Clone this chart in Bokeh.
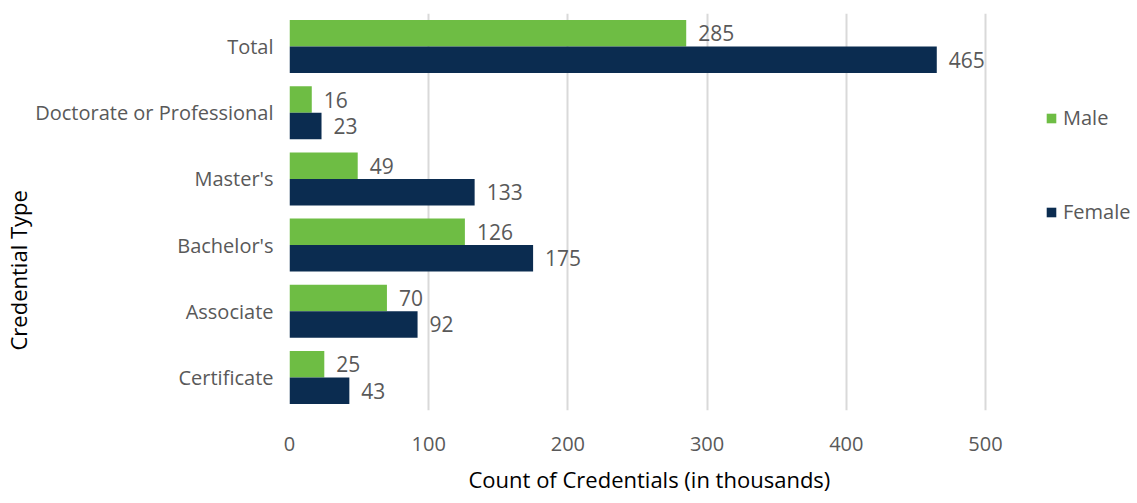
import math
from bokeh.plotting import figure
from bokeh.models import ColumnDataSource, FactorRange, Range1d, Legend, LegendItem, LabelSet, FixedTicker, Title
from bokeh.transform import dodge
from bokeh.core.properties import value
from bokeh.embed import file_html
from bokeh.resources import INLINE

categories = ["Certificate", "Associate", "Bachelor's", "Master's", "Doctorate or Professional", "Total"]
male = [25, 70, 126, 49, 16, 285]
female = [43, 92, 175, 133, 23, 465]
x_ticks = [0, 100, 200, 300, 400, 500]

GREEN = "#6EBD44"
NAVY = "#0B2C50"
GRAY = "#595959"
FONT = "Open Sans"

W, H = 1137, 503
LEFT, TOP, BOTTOM = 289, 13, 93
# frame spans to the right edge; value 500 lands at x=985 so the legend fits inside the frame
x_end = 500 * (W - LEFT) / (985 - LEFT)

src = ColumnDataSource(dict(cat=categories, male=male, female=female,
                            male_txt=[str(v) for v in male],
                            female_txt=[str(v) for v in female]))

p = figure(width=W, height=H, y_range=FactorRange(*categories, range_padding=0),
           x_range=Range1d(0, x_end), output_backend="svg", toolbar_location=None,
           min_border_left=LEFT, min_border_right=0, min_border_top=TOP, min_border_bottom=BOTTOM)
p.outline_line_color = None
p.background_fill_color = "white"
p.border_fill_color = "white"

rm = p.hbar(y=dodge("cat", 0.2, range=p.y_range), right="male", left=0, height=0.4,
            source=src, fill_color=GREEN, line_color=None)
rf = p.hbar(y=dodge("cat", -0.2, range=p.y_range), right="female", left=0, height=0.4,
            source=src, fill_color=NAVY, line_color=None)

for col, off in (("male", 0.2), ("female", -0.2)):
    lbl = LabelSet(x=col, y=dodge("cat", off, range=p.y_range), text=col + "_txt", source=src,
                   x_offset=12, text_align="left", text_baseline="middle",
                   text_font=value(FONT), text_font_size="21px", text_color=GRAY)
    p.add_layout(lbl)

p.xaxis.ticker = FixedTicker(ticks=x_ticks)
p.xaxis.axis_line_color = None
p.xaxis.major_tick_line_color = None
p.xaxis.minor_tick_line_color = None
p.xaxis.major_label_text_font = FONT
p.xaxis.major_label_text_font_size = "20px"
p.xaxis.major_label_text_color = GRAY
p.xaxis.major_label_standoff = 20

p.yaxis.axis_line_color = None
p.yaxis.major_tick_line_color = None
p.yaxis.minor_tick_line_color = None
p.yaxis.major_label_text_font = FONT
p.yaxis.major_label_text_font_size = "20px"
p.yaxis.major_label_text_color = GRAY
p.yaxis.major_label_standoff = 10

p.xgrid.grid_line_color = "#D9D9D9"
p.xgrid.grid_line_width = 2
p.ygrid.grid_line_color = None

ytitle = Title(text="Credential Type", align="left", offset=60, standoff=0, text_line_height=0.8,
               text_font=FONT, text_font_size="22px", text_font_style="normal", text_color="black")
p.add_layout(ytitle, "left")
xtitle = Title(text="Count of Credentials (in thousands)", align="left", offset=179, standoff=16,
               text_font=FONT, text_font_size="22px", text_font_style="normal", text_color="black")
p.add_layout(xtitle, "below")

legend = Legend(items=[LegendItem(label="Male", renderers=[rm]),
                       LegendItem(label="Female", renderers=[rf])],
                location=(756, 185), orientation="vertical",
                border_line_color=None, background_fill_alpha=0,
                padding=0, margin=0, spacing=67, glyph_width=12, glyph_height=12,
                label_height=24, label_standoff=6,
                label_text_font=FONT, label_text_font_size="20px", label_text_color=GRAY)
p.add_layout(legend)

open("out.html", "w").write(file_html(p, INLINE))
